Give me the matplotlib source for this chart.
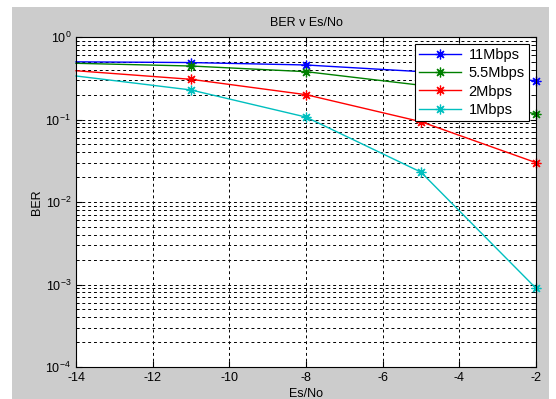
import matplotlib
matplotlib.use("Agg")
import matplotlib.pyplot as plt
from matplotlib.patches import Rectangle
from matplotlib.ticker import LogLocator, NullFormatter, FixedLocator

plt.rcParams['font.family'] = ['Liberation Sans', 'DejaVu Sans']
plt.rcParams['mathtext.fontset'] = 'custom'
plt.rcParams['mathtext.rm'] = 'Liberation Sans'
plt.rcParams['mathtext.it'] = 'Liberation Sans'
plt.rcParams['axes.unicode_minus'] = False

es_no = [-14, -11, -8, -5, -2]
ber_11 = [0.50, 0.49, 0.458, 0.38, 0.295]
ber_55 = [0.48, 0.445, 0.38, 0.26, 0.116]
ber_2 = [0.39, 0.307, 0.20, 0.094, 0.030]
ber_1 = [0.337, 0.228, 0.107, 0.023, 0.0009]
labels = ['11Mbps', '5.5Mbps', '2Mbps', '1Mbps']
colors = ['#0000ff', '#008000', '#ff0000', '#00bfbf']
xticks = [-14, -12, -10, -8, -6, -4, -2]

fig = plt.figure(figsize=(5.56, 3.99), dpi=100, facecolor='white')
fig.patches.append(Rectangle((12/556, 0), (549-12)/556, 1 - 7/399,
                             transform=fig.transFigure, facecolor='#cccccc',
                             edgecolor='none', zorder=-10))
ax = fig.add_axes([76/556, 1-367/399, (536-76)/556, (367-37)/399])
ax.set_facecolor('white')

for ys, lab, c in zip([ber_11, ber_55, ber_2, ber_1], labels, colors):
    ax.semilogy(es_no, ys, '-', marker=(8, 2, 0), color=c, label=lab, lw=1.0,
                ms=7, mew=0.9, markevery=[1, 2, 3, 4], clip_on=False)

ax.set_xlim(-14, -2)
ax.set_ylim(1e-4, 1)
ax.xaxis.set_major_locator(FixedLocator(xticks))
ax.yaxis.set_major_locator(LogLocator(base=10, numticks=10))
ax.yaxis.set_minor_locator(LogLocator(base=10, subs=range(2, 10), numticks=10))
ax.yaxis.set_minor_formatter(NullFormatter())
ax.grid(True, which='major', axis='both', color='black', ls=(0, (3, 3)), lw=0.7)
ax.grid(True, which='minor', axis='y', color='black', ls=(0, (3, 3)), lw=0.7)
ax.tick_params(which='both', direction='in', top=True, right=True, labelsize=9,
               length=4)
ax.tick_params(which='minor', length=2)
for s in ax.spines.values():
    s.set_linewidth(0.8)

ax.set_title('BER v Es/No', fontsize=9, pad=8)
ax.set_xlabel('Es/No', fontsize=9, labelpad=3)
ax.set_ylabel('BER', fontsize=9, labelpad=2)

leg = ax.legend(loc='upper right', bbox_to_anchor=(529/556, 1-44/399),
                bbox_transform=fig.transFigure, fontsize=10.5, frameon=True,
                fancybox=False, edgecolor='black', framealpha=1,
                handlelength=2.9, borderpad=0.3, labelspacing=0.28,
                handletextpad=0.5, borderaxespad=0)
leg.get_frame().set_linewidth(0.8)

fig.savefig('out.png', dpi=100, facecolor=fig.get_facecolor())
